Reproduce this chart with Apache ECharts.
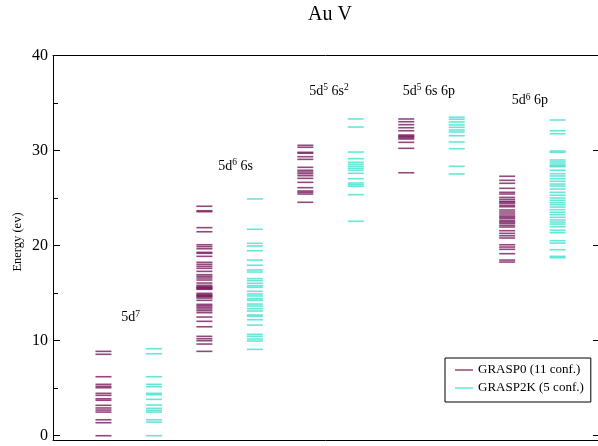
<!DOCTYPE html>
<html>
<head>
<meta charset="utf-8">
<script src="https://cdn.jsdelivr.net/npm/echarts@6/dist/echarts.min.js"></script>
<style>html,body{margin:0;padding:0;background:#fff}#c{width:598px;height:446px}</style>
</head>
<body>
<div id="c"></div>
<script>
// ---- data (energies in eV) ----
const configLabels = ['5d⁷', '5d⁶ 6s', '5d⁵ 6s²', '5d⁵ 6s 6p', '5d⁶ 6p'];
const labelX = [1.54, 3.62, 5.47, 7.45, 9.45];
const labelY = [12.6, 28.5, 36.4, 36.4, 35.4];
const yTicks = [0, 10, 20, 30, 40];
const yMinorTicks = [5, 15, 25, 35];
const seriesNames = ['GRASP0 (11 conf.)', 'GRASP2K (5 conf.)'];

const grasp0_5d7 = [0, 1.37, 1.68, 2.49, 2.70, 2.92, 3.20, 3.73, 3.89, 4.25, 4.46, 5.05, 5.20, 5.41, 6.21, 8.57, 8.88];
const grasp2k_5d7 = [0, 1.44, 1.68, 2.49, 2.67, 2.88, 3.23, 3.83, 4.32, 4.46, 5.16, 5.41, 6.21, 8.63, 9.16];

const grasp0_5d6_6s = [8.88, 9.65, 10.0, 10.21, 10.46, 11.47, 12.04, 12.49, 12.95, 13.16, 13.34, 13.52, 13.68, 13.83, 14.25, 14.49, 14.63, 14.70, 14.78, 14.85, 14.99, 15.41, 15.48, 15.55, 15.62, 15.68, 15.83, 16.07, 16.39, 16.6, 16.78, 16.95, 17.3, 17.62, 17.83, 18.04, 18.25, 18.88, 19.2, 19.3, 19.68, 19.9, 20.1, 21.47, 21.9, 23.58, 23.68, 24.15];
const grasp2k_5d6_6s = [9.09, 9.97, 10.18, 10.46, 10.67, 11.65, 12.21, 12.57, 12.71, 13.13, 13.37, 13.65, 13.86, 14.25, 14.42, 14.71, 14.92, 15.2, 15.62, 15.79, 16.04, 16.32, 16.53, 17.23, 17.44, 17.94, 18.49, 19.47, 19.97, 20.25, 21.73, 24.92];

const grasp0_5d5_6s2 = [24.57, 25.44, 25.62, 25.76, 26.11, 26.67, 27.09, 27.37, 27.58, 27.76, 27.94, 28.25, 29.09, 29.37, 29.73, 29.83, 30.36, 30.57];
const grasp2k_5d5_6s2 = [22.57, 25.37, 26.25, 26.42, 26.6, 27.05, 27.62, 27.94, 28.15, 28.36, 28.57, 28.78, 29.16, 29.86, 32.49, 33.34];

const grasp0_5d5_6s_6p = [27.68, 30.25, 30.88, 31.23, 31.35, 31.47, 31.55, 31.65, 32.1, 32.42, 32.74, 33.05, 33.34];
const grasp2k_5d5_6s_6p = [27.55, 28.36, 30.21, 30.92, 31.58, 31.97, 32.18, 32.46, 32.71, 33.02, 33.31, 33.52];

const grasp0_5d6_6p = [18.28, 18.49, 19.16, 19.62, 19.86, 20.1, 20.81, 21.05, 21.3, 21.58, 21.97, 22.15, 22.36, 22.5, 22.63, 22.84, 23.0, 23.13, 23.34, 23.55, 23.76, 24.1, 24.25, 24.46, 24.6, 24.67, 24.88, 25.09, 25.44, 25.62, 26.04, 26.57, 26.88, 27.31];
const grasp2k_5d6_6p = [18.74, 18.88, 19.58, 20.28, 20.53, 21.37, 21.62, 22.0, 22.28, 22.49, 22.71, 22.99, 23.26, 23.52, 23.79, 24.07, 24.32, 24.53, 24.78, 25.02, 25.31, 25.62, 25.96, 26.28, 26.49, 26.78, 27.05, 27.34, 27.58, 27.94, 28.32, 28.42, 28.6, 28.81, 29.02, 29.83, 29.97, 31.79, 32.1, 33.23];

const grasp0Sets = [grasp0_5d7, grasp0_5d6_6s, grasp0_5d5_6s2, grasp0_5d5_6s_6p, grasp0_5d6_6p];
const grasp2kSets = [grasp2k_5d7, grasp2k_5d6_6s, grasp2k_5d5_6s2, grasp2k_5d5_6s_6p, grasp2k_5d6_6p];

// ---- build ----
const purple = '#761a5b';
const cyan = '#40e0d0';
const serif = 'Liberation Serif';
function toPoints(sets, offset) {
  const out = [];
  sets.forEach((arr, i) => arr.forEach(v => out.push([2 * i + offset, v])));
  return out;
}
const supMap = {'⁰':'0','¹':'1','²':'2','³':'3','⁴':'4','⁵':'5','⁶':'6','⁷':'7','⁸':'8','⁹':'9'};
function richLabel(s) {
  let out = '', buf = '';
  for (const ch of s) {
    if (supMap[ch]) { if (buf) { out += '{a|' + buf + '}'; buf = ''; } out += '{s|' + supMap[ch] + '}'; }
    else buf += ch;
  }
  if (buf) out += '{a|' + buf + '}';
  return out;
}
const yRange = {min: -0.45, max: 40};
const blackLine = {show: true, onZero: false, lineStyle: {color: '#000', width: 1}};
const chart = echarts.init(document.getElementById('c'), null, {renderer: 'canvas'});
chart.setOption({
  animation: false,
  backgroundColor: '#fff',
  grid: {left: 53, right: 0, top: 55.7, bottom: 6, containLabel: false},
  xAxis: [
    {type: 'value', min: 0, max: 10.8, position: 'bottom', axisLine: blackLine, axisTick: {show: false}, axisLabel: {show: false}, splitLine: {show: false}},
    {type: 'value', min: 0, max: 10.8, position: 'top', axisLine: blackLine, axisTick: {show: false}, axisLabel: {show: false}, splitLine: {show: false}}
  ],
  yAxis: [
    {type: 'value', ...yRange, position: 'left', axisLine: blackLine,
     axisTick: {show: true, inside: true, length: 7, customValues: yTicks, lineStyle: {color: '#000'}},
     axisLabel: {show: true, customValues: yTicks, margin: 5, color: '#000', fontFamily: serif, fontSize: 16},
     splitLine: {show: false}},
    {type: 'value', ...yRange, position: 'left', axisLine: {show: false, onZero: false},
     axisTick: {show: true, inside: true, length: 5, customValues: yMinorTicks, lineStyle: {color: '#000'}},
     axisLabel: {show: false}, splitLine: {show: false}},
    {type: 'value', ...yRange, position: 'right', axisLine: blackLine,
     axisTick: {show: true, inside: true, length: 5, customValues: yTicks, lineStyle: {color: '#000'}},
     axisLabel: {show: false}, splitLine: {show: false}}
  ],
  legend: {
    data: [{name: seriesNames[0], icon: 'rect'}, {name: seriesNames[1], icon: 'rect'}],
    orient: 'vertical', left: 445, top: 358, itemWidth: 18, itemHeight: 1.5, itemGap: 2,
    padding: [4, 7, 6, 10], borderColor: '#000', borderWidth: 1, backgroundColor: '#fff',
    selectedMode: false,
    textStyle: {fontFamily: serif, fontSize: 13, color: '#000', lineHeight: 16}
  },
  graphic: [
    {type: 'text', x: 330, y: 15, style: {text: 'Au V', fontFamily: serif, fontSize: 20, fill: '#000', align: 'center', verticalAlign: 'middle'}},
    {type: 'text', x: 18, y: 242, rotation: Math.PI / 2, style: {text: 'Energy (ev)', fontFamily: serif, fontSize: 12.5, fill: '#000', align: 'center', verticalAlign: 'middle'}}
  ],
  series: [
    {name: seriesNames[0], type: 'scatter', symbol: 'rect', symbolSize: [16, 1.6], itemStyle: {color: purple}, data: toPoints(grasp0Sets, 1), z: 3},
    {name: seriesNames[1], type: 'scatter', symbol: 'rect', symbolSize: [16, 1.6], itemStyle: {color: cyan}, data: toPoints(grasp2kSets, 2), z: 3},
    {name: 'labels', type: 'scatter', symbolSize: 1, itemStyle: {color: 'rgba(0,0,0,0)'}, silent: true,
     data: configLabels.map((t, i) => ({value: [labelX[i], labelY[i]], label: {formatter: richLabel(t)}})),
     label: {show: true, position: 'inside', color: '#000', opacity: 1, textBorderWidth: 0, textBorderColor: 'transparent',
       rich: {a: {fontFamily: serif, fontSize: 14, color: '#000', lineHeight: 16, verticalAlign: 'bottom', textBorderWidth: 0},
              s: {fontFamily: serif, fontSize: 9.5, color: '#000', lineHeight: 10, verticalAlign: 'top', padding: [1, 0, 0, 0], textBorderWidth: 0}}}}
  ]
});
</script>
</body>
</html>
